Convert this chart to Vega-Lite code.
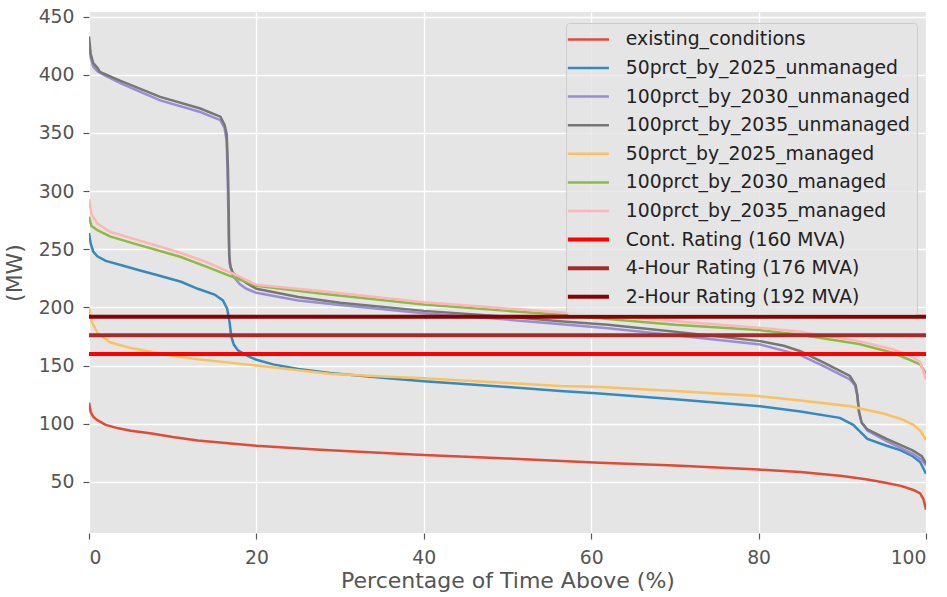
{
  "$schema": "https://vega.github.io/schema/vega-lite/v6.json",
  "width": 837,
  "height": 521,
  "autosize": {"type": "none"},
  "padding": {"left": 89, "top": 12, "right": 21, "bottom": 64},
  "background": "white",
  "config": {
    "font": "DejaVu Sans",
    "view": {"fill": "#E5E5E5", "stroke": null},
    "axis": {
      "domain": false,
      "gridColor": "white",
      "gridWidth": 1.3,
      "tickColor": "#555555",
      "tickSize": 6,
      "tickWidth": 1.2,
      "labelColor": "#555555",
      "labelFontSize": 18.8,
      "titleColor": "#555555",
      "titleFontSize": 22,
      "titleFontWeight": "normal"
    }
  },
  "data": {
    "values": [
      {"series": "existing_conditions", "pct": 0, "mw": 118},
      {"series": "existing_conditions", "pct": 0.2, "mw": 110},
      {"series": "existing_conditions", "pct": 0.5, "mw": 106},
      {"series": "existing_conditions", "pct": 1, "mw": 103},
      {"series": "existing_conditions", "pct": 2, "mw": 99},
      {"series": "existing_conditions", "pct": 3.5, "mw": 96},
      {"series": "existing_conditions", "pct": 5, "mw": 94},
      {"series": "existing_conditions", "pct": 7.5, "mw": 91.5},
      {"series": "existing_conditions", "pct": 10, "mw": 88.5},
      {"series": "existing_conditions", "pct": 13, "mw": 85.5},
      {"series": "existing_conditions", "pct": 20, "mw": 81},
      {"series": "existing_conditions", "pct": 27.6, "mw": 77.5},
      {"series": "existing_conditions", "pct": 40, "mw": 73},
      {"series": "existing_conditions", "pct": 50, "mw": 70},
      {"series": "existing_conditions", "pct": 61, "mw": 66.5},
      {"series": "existing_conditions", "pct": 70, "mw": 64},
      {"series": "existing_conditions", "pct": 80, "mw": 60.5},
      {"series": "existing_conditions", "pct": 85, "mw": 58.5},
      {"series": "existing_conditions", "pct": 90, "mw": 55},
      {"series": "existing_conditions", "pct": 93, "mw": 52},
      {"series": "existing_conditions", "pct": 95, "mw": 49.5},
      {"series": "existing_conditions", "pct": 97, "mw": 46.5},
      {"series": "existing_conditions", "pct": 98.5, "mw": 43},
      {"series": "existing_conditions", "pct": 99.3, "mw": 40},
      {"series": "existing_conditions", "pct": 99.7, "mw": 35},
      {"series": "existing_conditions", "pct": 100, "mw": 26},

      {"series": "50prct_by_2025_unmanaged", "pct": 0, "mw": 264},
      {"series": "50prct_by_2025_unmanaged", "pct": 0.2, "mw": 255},
      {"series": "50prct_by_2025_unmanaged", "pct": 0.5, "mw": 248},
      {"series": "50prct_by_2025_unmanaged", "pct": 1, "mw": 244},
      {"series": "50prct_by_2025_unmanaged", "pct": 2, "mw": 240},
      {"series": "50prct_by_2025_unmanaged", "pct": 4, "mw": 236},
      {"series": "50prct_by_2025_unmanaged", "pct": 6, "mw": 232},
      {"series": "50prct_by_2025_unmanaged", "pct": 8, "mw": 228},
      {"series": "50prct_by_2025_unmanaged", "pct": 11, "mw": 222},
      {"series": "50prct_by_2025_unmanaged", "pct": 13, "mw": 216},
      {"series": "50prct_by_2025_unmanaged", "pct": 15, "mw": 211},
      {"series": "50prct_by_2025_unmanaged", "pct": 16, "mw": 206},
      {"series": "50prct_by_2025_unmanaged", "pct": 16.5, "mw": 199},
      {"series": "50prct_by_2025_unmanaged", "pct": 16.8, "mw": 187},
      {"series": "50prct_by_2025_unmanaged", "pct": 17, "mw": 175},
      {"series": "50prct_by_2025_unmanaged", "pct": 17.3, "mw": 168},
      {"series": "50prct_by_2025_unmanaged", "pct": 17.8, "mw": 163},
      {"series": "50prct_by_2025_unmanaged", "pct": 19, "mw": 158},
      {"series": "50prct_by_2025_unmanaged", "pct": 20, "mw": 155},
      {"series": "50prct_by_2025_unmanaged", "pct": 22, "mw": 151},
      {"series": "50prct_by_2025_unmanaged", "pct": 25, "mw": 147},
      {"series": "50prct_by_2025_unmanaged", "pct": 28.8, "mw": 143.5},
      {"series": "50prct_by_2025_unmanaged", "pct": 35, "mw": 139.5},
      {"series": "50prct_by_2025_unmanaged", "pct": 40, "mw": 136.5},
      {"series": "50prct_by_2025_unmanaged", "pct": 50, "mw": 131.5},
      {"series": "50prct_by_2025_unmanaged", "pct": 56.3, "mw": 128},
      {"series": "50prct_by_2025_unmanaged", "pct": 61, "mw": 126},
      {"series": "50prct_by_2025_unmanaged", "pct": 70, "mw": 121},
      {"series": "50prct_by_2025_unmanaged", "pct": 80.2, "mw": 115},
      {"series": "50prct_by_2025_unmanaged", "pct": 85, "mw": 110.5},
      {"series": "50prct_by_2025_unmanaged", "pct": 89.7, "mw": 105},
      {"series": "50prct_by_2025_unmanaged", "pct": 91.3, "mw": 99},
      {"series": "50prct_by_2025_unmanaged", "pct": 92, "mw": 94},
      {"series": "50prct_by_2025_unmanaged", "pct": 93, "mw": 87},
      {"series": "50prct_by_2025_unmanaged", "pct": 95.3, "mw": 81},
      {"series": "50prct_by_2025_unmanaged", "pct": 97, "mw": 77},
      {"series": "50prct_by_2025_unmanaged", "pct": 98.4, "mw": 72},
      {"series": "50prct_by_2025_unmanaged", "pct": 99.3, "mw": 67},
      {"series": "50prct_by_2025_unmanaged", "pct": 100, "mw": 57},

      {"series": "100prct_by_2030_unmanaged", "pct": 0, "mw": 428},
      {"series": "100prct_by_2030_unmanaged", "pct": 0.2, "mw": 415},
      {"series": "100prct_by_2030_unmanaged", "pct": 0.5, "mw": 407},
      {"series": "100prct_by_2030_unmanaged", "pct": 1, "mw": 403},
      {"series": "100prct_by_2030_unmanaged", "pct": 2, "mw": 399},
      {"series": "100prct_by_2030_unmanaged", "pct": 4, "mw": 392},
      {"series": "100prct_by_2030_unmanaged", "pct": 8.5, "mw": 378},
      {"series": "100prct_by_2030_unmanaged", "pct": 13.3, "mw": 368},
      {"series": "100prct_by_2030_unmanaged", "pct": 15.7, "mw": 361},
      {"series": "100prct_by_2030_unmanaged", "pct": 16.2, "mw": 354},
      {"series": "100prct_by_2030_unmanaged", "pct": 16.45, "mw": 343},
      {"series": "100prct_by_2030_unmanaged", "pct": 16.6, "mw": 300},
      {"series": "100prct_by_2030_unmanaged", "pct": 16.7, "mw": 260},
      {"series": "100prct_by_2030_unmanaged", "pct": 16.8, "mw": 238},
      {"series": "100prct_by_2030_unmanaged", "pct": 17.2, "mw": 227},
      {"series": "100prct_by_2030_unmanaged", "pct": 18, "mw": 220},
      {"series": "100prct_by_2030_unmanaged", "pct": 18.8, "mw": 216},
      {"series": "100prct_by_2030_unmanaged", "pct": 20, "mw": 212.5},
      {"series": "100prct_by_2030_unmanaged", "pct": 25, "mw": 206},
      {"series": "100prct_by_2030_unmanaged", "pct": 30, "mw": 202},
      {"series": "100prct_by_2030_unmanaged", "pct": 40, "mw": 195},
      {"series": "100prct_by_2030_unmanaged", "pct": 50, "mw": 189.5},
      {"series": "100prct_by_2030_unmanaged", "pct": 56.5, "mw": 185.5},
      {"series": "100prct_by_2030_unmanaged", "pct": 62, "mw": 182},
      {"series": "100prct_by_2030_unmanaged", "pct": 70, "mw": 176},
      {"series": "100prct_by_2030_unmanaged", "pct": 80.2, "mw": 168},
      {"series": "100prct_by_2030_unmanaged", "pct": 85, "mw": 159},
      {"series": "100prct_by_2030_unmanaged", "pct": 88.2, "mw": 148},
      {"series": "100prct_by_2030_unmanaged", "pct": 90.9, "mw": 138},
      {"series": "100prct_by_2030_unmanaged", "pct": 91.5, "mw": 133},
      {"series": "100prct_by_2030_unmanaged", "pct": 91.8, "mw": 124},
      {"series": "100prct_by_2030_unmanaged", "pct": 92, "mw": 110},
      {"series": "100prct_by_2030_unmanaged", "pct": 92.3, "mw": 101},
      {"series": "100prct_by_2030_unmanaged", "pct": 93, "mw": 94},
      {"series": "100prct_by_2030_unmanaged", "pct": 95.3, "mw": 85},
      {"series": "100prct_by_2030_unmanaged", "pct": 98.4, "mw": 74},
      {"series": "100prct_by_2030_unmanaged", "pct": 99.5, "mw": 69},
      {"series": "100prct_by_2030_unmanaged", "pct": 100, "mw": 64},

      {"series": "100prct_by_2035_unmanaged", "pct": 0, "mw": 433},
      {"series": "100prct_by_2035_unmanaged", "pct": 0.2, "mw": 418},
      {"series": "100prct_by_2035_unmanaged", "pct": 0.5, "mw": 410},
      {"series": "100prct_by_2035_unmanaged", "pct": 1, "mw": 406},
      {"series": "100prct_by_2035_unmanaged", "pct": 1.3, "mw": 402.5},
      {"series": "100prct_by_2035_unmanaged", "pct": 3.7, "mw": 395},
      {"series": "100prct_by_2035_unmanaged", "pct": 8.5, "mw": 381},
      {"series": "100prct_by_2035_unmanaged", "pct": 13.3, "mw": 371},
      {"series": "100prct_by_2035_unmanaged", "pct": 15.7, "mw": 364},
      {"series": "100prct_by_2035_unmanaged", "pct": 16.2, "mw": 357},
      {"series": "100prct_by_2035_unmanaged", "pct": 16.45, "mw": 349},
      {"series": "100prct_by_2035_unmanaged", "pct": 16.6, "mw": 320},
      {"series": "100prct_by_2035_unmanaged", "pct": 16.7, "mw": 280},
      {"series": "100prct_by_2035_unmanaged", "pct": 16.75, "mw": 245},
      {"series": "100prct_by_2035_unmanaged", "pct": 16.9, "mw": 235},
      {"series": "100prct_by_2035_unmanaged", "pct": 17.2, "mw": 229.5},
      {"series": "100prct_by_2035_unmanaged", "pct": 18.8, "mw": 221},
      {"series": "100prct_by_2035_unmanaged", "pct": 20, "mw": 216},
      {"series": "100prct_by_2035_unmanaged", "pct": 25, "mw": 209},
      {"series": "100prct_by_2035_unmanaged", "pct": 30, "mw": 204},
      {"series": "100prct_by_2035_unmanaged", "pct": 40, "mw": 197},
      {"series": "100prct_by_2035_unmanaged", "pct": 50, "mw": 192},
      {"series": "100prct_by_2035_unmanaged", "pct": 56.3, "mw": 188},
      {"series": "100prct_by_2035_unmanaged", "pct": 62, "mw": 185},
      {"series": "100prct_by_2035_unmanaged", "pct": 70, "mw": 179},
      {"series": "100prct_by_2035_unmanaged", "pct": 80.2, "mw": 171},
      {"series": "100prct_by_2035_unmanaged", "pct": 83, "mw": 167},
      {"series": "100prct_by_2035_unmanaged", "pct": 85, "mw": 162.3},
      {"series": "100prct_by_2035_unmanaged", "pct": 88.2, "mw": 151},
      {"series": "100prct_by_2035_unmanaged", "pct": 90.9, "mw": 141},
      {"series": "100prct_by_2035_unmanaged", "pct": 91.6, "mw": 133},
      {"series": "100prct_by_2035_unmanaged", "pct": 91.8, "mw": 124},
      {"series": "100prct_by_2035_unmanaged", "pct": 92, "mw": 110},
      {"series": "100prct_by_2035_unmanaged", "pct": 92.3, "mw": 101},
      {"series": "100prct_by_2035_unmanaged", "pct": 93, "mw": 95},
      {"series": "100prct_by_2035_unmanaged", "pct": 95.3, "mw": 87},
      {"series": "100prct_by_2035_unmanaged", "pct": 98.4, "mw": 77},
      {"series": "100prct_by_2035_unmanaged", "pct": 99.5, "mw": 72},
      {"series": "100prct_by_2035_unmanaged", "pct": 100, "mw": 66},

      {"series": "50prct_by_2025_managed", "pct": 0, "mw": 200},
      {"series": "50prct_by_2025_managed", "pct": 0.3, "mw": 188},
      {"series": "50prct_by_2025_managed", "pct": 1, "mw": 178},
      {"series": "50prct_by_2025_managed", "pct": 2.5, "mw": 170},
      {"series": "50prct_by_2025_managed", "pct": 5, "mw": 165},
      {"series": "50prct_by_2025_managed", "pct": 7.3, "mw": 162},
      {"series": "50prct_by_2025_managed", "pct": 10, "mw": 158.5},
      {"series": "50prct_by_2025_managed", "pct": 13, "mw": 155.5},
      {"series": "50prct_by_2025_managed", "pct": 16.8, "mw": 152.5},
      {"series": "50prct_by_2025_managed", "pct": 20, "mw": 150},
      {"series": "50prct_by_2025_managed", "pct": 25, "mw": 146},
      {"series": "50prct_by_2025_managed", "pct": 28.8, "mw": 143},
      {"series": "50prct_by_2025_managed", "pct": 35, "mw": 140.5},
      {"series": "50prct_by_2025_managed", "pct": 40, "mw": 139},
      {"series": "50prct_by_2025_managed", "pct": 50, "mw": 135},
      {"series": "50prct_by_2025_managed", "pct": 56.3, "mw": 132.5},
      {"series": "50prct_by_2025_managed", "pct": 61, "mw": 131.5},
      {"series": "50prct_by_2025_managed", "pct": 70, "mw": 128},
      {"series": "50prct_by_2025_managed", "pct": 80, "mw": 123.7},
      {"series": "50prct_by_2025_managed", "pct": 85, "mw": 120},
      {"series": "50prct_by_2025_managed", "pct": 91, "mw": 115},
      {"series": "50prct_by_2025_managed", "pct": 95, "mw": 108.5},
      {"series": "50prct_by_2025_managed", "pct": 97, "mw": 104},
      {"series": "50prct_by_2025_managed", "pct": 98.4, "mw": 99.5},
      {"series": "50prct_by_2025_managed", "pct": 99.3, "mw": 94},
      {"series": "50prct_by_2025_managed", "pct": 100, "mw": 86},

      {"series": "100prct_by_2030_managed", "pct": 0, "mw": 278},
      {"series": "100prct_by_2030_managed", "pct": 0.3, "mw": 270},
      {"series": "100prct_by_2030_managed", "pct": 1, "mw": 266.5},
      {"series": "100prct_by_2030_managed", "pct": 2.5, "mw": 261},
      {"series": "100prct_by_2030_managed", "pct": 5.3, "mw": 255},
      {"series": "100prct_by_2030_managed", "pct": 10.9, "mw": 243.5},
      {"series": "100prct_by_2030_managed", "pct": 14, "mw": 235},
      {"series": "100prct_by_2030_managed", "pct": 17.2, "mw": 226},
      {"series": "100prct_by_2030_managed", "pct": 20, "mw": 218.5},
      {"series": "100prct_by_2030_managed", "pct": 27.6, "mw": 212},
      {"series": "100prct_by_2030_managed", "pct": 40, "mw": 202.5},
      {"series": "100prct_by_2030_managed", "pct": 50, "mw": 197},
      {"series": "100prct_by_2030_managed", "pct": 56.6, "mw": 193.7},
      {"series": "100prct_by_2030_managed", "pct": 62, "mw": 190},
      {"series": "100prct_by_2030_managed", "pct": 70, "mw": 185},
      {"series": "100prct_by_2030_managed", "pct": 80, "mw": 180.5},
      {"series": "100prct_by_2030_managed", "pct": 85, "mw": 176.5},
      {"series": "100prct_by_2030_managed", "pct": 88, "mw": 173},
      {"series": "100prct_by_2030_managed", "pct": 92, "mw": 168.5},
      {"series": "100prct_by_2030_managed", "pct": 96, "mw": 161},
      {"series": "100prct_by_2030_managed", "pct": 98, "mw": 155},
      {"series": "100prct_by_2030_managed", "pct": 99.3, "mw": 151},
      {"series": "100prct_by_2030_managed", "pct": 100, "mw": 143},

      {"series": "100prct_by_2035_managed", "pct": 0, "mw": 293},
      {"series": "100prct_by_2035_managed", "pct": 0.3, "mw": 280},
      {"series": "100prct_by_2035_managed", "pct": 1, "mw": 272},
      {"series": "100prct_by_2035_managed", "pct": 2.5, "mw": 265},
      {"series": "100prct_by_2035_managed", "pct": 5.3, "mw": 259},
      {"series": "100prct_by_2035_managed", "pct": 10.9, "mw": 247},
      {"series": "100prct_by_2035_managed", "pct": 14, "mw": 239},
      {"series": "100prct_by_2035_managed", "pct": 17.2, "mw": 229},
      {"series": "100prct_by_2035_managed", "pct": 20, "mw": 219.5},
      {"series": "100prct_by_2035_managed", "pct": 27.6, "mw": 214},
      {"series": "100prct_by_2035_managed", "pct": 40, "mw": 204.5},
      {"series": "100prct_by_2035_managed", "pct": 50, "mw": 199},
      {"series": "100prct_by_2035_managed", "pct": 56.6, "mw": 195.7},
      {"series": "100prct_by_2035_managed", "pct": 62, "mw": 192.5},
      {"series": "100prct_by_2035_managed", "pct": 70, "mw": 188},
      {"series": "100prct_by_2035_managed", "pct": 80, "mw": 182.5},
      {"series": "100prct_by_2035_managed", "pct": 85, "mw": 179},
      {"series": "100prct_by_2035_managed", "pct": 88, "mw": 175.5},
      {"series": "100prct_by_2035_managed", "pct": 92, "mw": 171},
      {"series": "100prct_by_2035_managed", "pct": 96, "mw": 164},
      {"series": "100prct_by_2035_managed", "pct": 98, "mw": 159},
      {"series": "100prct_by_2035_managed", "pct": 99.3, "mw": 153},
      {"series": "100prct_by_2035_managed", "pct": 100, "mw": 138},

      {"series": "Cont. Rating (160 MVA)", "pct": 0, "mw": 160},
      {"series": "Cont. Rating (160 MVA)", "pct": 100, "mw": 160},
      {"series": "4-Hour Rating (176 MVA)", "pct": 0, "mw": 176},
      {"series": "4-Hour Rating (176 MVA)", "pct": 100, "mw": 176},
      {"series": "2-Hour Rating (192 MVA)", "pct": 0, "mw": 192},
      {"series": "2-Hour Rating (192 MVA)", "pct": 100, "mw": 192}
    ]
  },
  "encoding": {
    "x": {
      "field": "pct",
      "type": "quantitative",
      "scale": {"domain": [0, 100], "nice": false},
      "axis": {"values": [0, 20, 40, 60, 80, 100], "title": "Percentage of Time Above (%)", "labelPadding": 9, "titlePadding": 4}
    },
    "y": {
      "field": "mw",
      "type": "quantitative",
      "scale": {"domain": [6, 454], "nice": false, "zero": false},
      "axis": {"values": [50, 100, 150, 200, 250, 300, 350, 400, 450], "title": "(MW)", "labelPadding": 9, "titlePadding": 12}
    },
    "color": {
      "field": "series",
      "type": "nominal",
      "scale": {
        "domain": ["existing_conditions", "50prct_by_2025_unmanaged", "100prct_by_2030_unmanaged", "100prct_by_2035_unmanaged", "50prct_by_2025_managed", "100prct_by_2030_managed", "100prct_by_2035_managed", "Cont. Rating (160 MVA)", "4-Hour Rating (176 MVA)", "2-Hour Rating (192 MVA)"],
        "range": ["#E24A33", "#348ABD", "#988ED5", "#777777", "#FBC15E", "#8EBA42", "#FFB5B8", "#FF0000", "#A52A2A", "#8B0000"]
      },
      "legend": {
        "title": null,
        "orient": "none",
        "legendX": 477,
        "legendY": 11,
        "padding": 7,
        "fillColor": "rgba(229,229,229,0.8)",
        "strokeColor": "#CCCCCC",
        "cornerRadius": 3,
        "symbolType": "M-1.58,0H1.58",
        "symbolSize": 676,
        "symbolOffset": 6,
        "labelOffset": 28,
        "rowPadding": 8.6,
        "labelFontSize": 18.8,
        "labelColor": "#222222",
        "labelLimit": 400,
        "encode": {
          "symbols": {
            "update": {
              "strokeWidth": {"signal": "test(/Rating/, datum.value) ? 4 : 2.5"}
            }
          }
        }
      }
    },
    "order": {"field": "pct", "type": "quantitative"}
  },
  "layer": [
    {
      "transform": [{"filter": "!test(/Rating/, datum.series)"}],
      "mark": {"type": "line", "strokeWidth": 2.5, "clip": true}
    },
    {
      "transform": [{"filter": "test(/Rating/, datum.series)"}],
      "mark": {"type": "line", "strokeWidth": 4, "clip": true}
    }
  ]
}
